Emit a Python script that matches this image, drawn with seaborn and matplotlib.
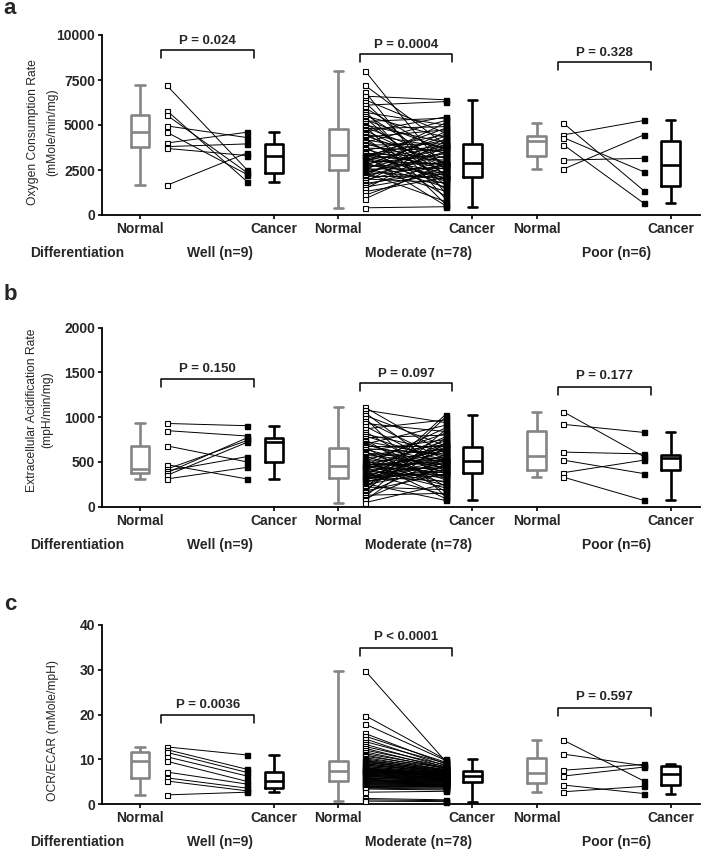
import numpy as np
import pandas as pd
import matplotlib
matplotlib.use("Agg")
import matplotlib.pyplot as plt
import seaborn as sns

# ---- values ----
group_labels = ["Well (n=9)", "Moderate (n=78)", "Poor (n=6)"]
box_labels = ["Normal", "Cancer"]

# a: oxygen consumption rate (pairs listed in the same order)
ocr_well_normal = [7200, 5800, 5550, 4950, 4600, 4000, 3800, 3700, 1650]
ocr_well_cancer = [2500, 1850, 2350, 4300, 2250, 4600, 3950, 3300, 3450]
ocr_mod_normal = [8000, 7200, 6850, 6600, 6400, 6250, 6100, 5950, 5800, 5700, 5600, 5500, 5400, 5300, 5200, 5100, 5000, 4950, 4880, 4800,
                  4700, 4620, 4550, 4480, 4400, 4330, 4250, 4180, 4100, 4030, 3950, 3880, 3800, 3720, 3650, 3580, 3500, 3420, 3360,
                  3340, 3320, 3300, 3280, 3250, 3200, 3150, 3100, 3050, 3000, 2950, 2900, 2850, 2800, 2750, 2700, 2650, 2600, 2550,
                  2500, 2450, 2400, 2350, 2300, 2250, 2200, 2150, 2100, 2000, 1950, 1850, 1750, 1650, 1550, 1450, 1300, 1100, 900, 400]
ocr_mod_cancer = [2480, 3900, 1200, 6400, 4550, 2130, 6300, 3330, 900, 5000, 2800, 4310, 1650, 3640, 5380, 2250, 4020, 600, 3120, 4910,
                  2630, 5450, 1930, 3750, 2915, 4730, 1450, 3460, 2160, 5250, 2880, 3960, 1050, 3580, 2530, 4470, 1870, 3200, 2760,
                  4150, 2040, 3870, 520, 3050, 4820, 2370, 1720, 3790, 2830, 5120, 1550, 3400, 2200, 4390, 2905, 1320, 3700, 2580,
                  4640, 1990, 3270, 750, 3920, 2720, 4230, 2110, 3520, 1800, 2980, 4090, 2420, 2860, 2310, 3830, 2080, 2680, 2900, 460]
ocr_poor_normal = [5100, 4450, 4300, 3900, 3050, 2550]
ocr_poor_cancer = [1350, 5250, 2400, 650, 3150, 4450]

# b: extracellular acidification rate
ecar_well_normal = [930, 850, 680, 470, 420, 400, 380, 350, 310]
ecar_well_cancer = [905, 790, 500, 310, 740, 560, 770, 720, 440]
ecar_mod_normal = [1110, 1080, 1050, 1020, 990, 960, 930, 900, 870, 840, 810, 790, 770, 750, 730, 715, 700, 690, 675, 665,
                   650, 640, 625, 610, 600, 585, 570, 560, 545, 530, 520, 510, 500, 490, 480, 472, 465, 460, 457,
                   453, 448, 440, 432, 425, 418, 410, 400, 390, 380, 372, 365, 358, 350, 342, 335, 328, 322, 320,
                   315, 308, 300, 290, 280, 270, 258, 245, 232, 220, 205, 190, 175, 160, 145, 128, 110, 90, 70, 45]
ecar_mod_cancer = [595, 940, 385, 680, 110, 524, 840, 440, 970, 312, 615, 512, 800, 225, 565, 374, 910, 492, 675, 170,
                   585, 424, 750, 300, 530, 462, 695, 338, 645, 90, 518, 820, 400, 270, 625, 478, 880, 240, 555,
                   378, 735, 508, 210, 605, 432, 780, 325, 538, 130, 665, 455, 705, 360, 575, 285, 514, 688, 408,
                   485, 392, 635, 350, 447, 500, 70, 416, 655, 190, 1030, 765, 370, 1000, 545, 150, 860, 470, 720, 255]
ecar_poor_normal = [1060, 920, 610, 520, 380, 330]
ecar_poor_cancer = [560, 830, 590, 370, 520, 70]

# c: OCR/ECAR ratio
ratio_well_normal = [12.8, 12.2, 11.6, 10.6, 9.6, 7.2, 5.9, 5.2, 2.1]
ratio_well_cancer = [11.0, 7.8, 7.1, 6.3, 5.1, 4.5, 3.6, 3.0, 2.7]
ratio_mod_normal = [29.8, 19.8, 17.9, 15.8, 15.2, 14.6, 14.0, 13.4, 12.9, 12.5, 12.1, 11.7, 11.3, 11.0, 10.7, 10.4, 10.1, 9.9, 9.7, 9.6,
                    9.4, 9.3, 9.1, 9.0, 8.8, 8.7, 8.5, 8.4, 8.2, 8.1, 8.0, 7.9, 7.8, 7.7, 7.6, 7.55, 7.5, 7.45, 7.42,
                    7.38, 7.3, 7.2, 7.1, 7.0, 6.9, 6.8, 6.7, 6.6, 6.5, 6.4, 6.3, 6.2, 6.0, 5.9, 5.8, 5.6, 5.5, 5.4,
                    5.25, 5.15, 5.05, 4.95, 4.85, 4.7, 4.6, 4.5, 4.4, 4.25, 4.1, 4.0, 3.9, 3.75, 3.6, 3.4, 2.7, 1.3, 1.0, 0.7]
ratio_mod_cancer = [9.6, 10.0, 9.8, 9.0, 9.4, 8.6, 9.2, 8.3, 8.8, 8.0, 8.4, 7.9, 8.2, 7.6, 8.1, 7.65, 7.8, 7.45, 7.7, 7.2,
                    7.5, 7.35, 6.9, 7.3, 7.1, 7.15, 6.8, 7.0, 6.65, 6.95, 6.5, 6.85, 6.6, 6.4, 6.7, 6.28, 6.55, 6.32, 6.1,
                    6.45, 6.35, 5.95, 6.2, 5.8, 6.0, 5.7, 5.9, 5.5, 5.75, 5.6, 5.35, 5.45, 5.4, 5.2, 5.3, 5.05, 5.15, 4.9,
                    5.1, 4.95, 4.7, 4.8, 4.5, 4.6, 4.3, 4.4, 4.1, 4.2, 3.9, 4.0, 3.8, 3.6, 3.4, 3.2, 2.9, 1.0, 0.8, 0.6]
ratio_poor_normal = [14.3, 11.2, 7.6, 6.3, 4.3, 2.8]
ratio_poor_cancer = [5.2, 8.6, 8.9, 8.3, 2.4, 4.0]

ocr_p = ["P = 0.024", "P = 0.0004", "P = 0.328"]
ecar_p = ["P = 0.150", "P = 0.097", "P = 0.177"]
ratio_p = ["P = 0.0036", "P < 0.0001", "P = 0.597"]

# ---- layout ----
STEP = 7.4          # distance between groups
OPEN_DX, FILL_DX, CANCER_DX = 1.0, 4.0, 5.0
BOX_W = 0.7
GRAY = "#858585"
W, H = 711, 851

sns.set_theme(style="ticks")
plt.rcParams["font.family"] = ["Liberation Sans", "DejaVu Sans"]

fig = plt.figure(figsize=(W / 100, H / 100), dpi=100)


def draw_panel(top_px, bottom_px, normals, cancers, ymax, ystep, ylabel, lab_pos, lab_ls,
               pvals, bracket_y, text_y, letter, letter_y):
    ax = fig.add_axes([102 / W, 1 - bottom_px / H, 598 / W, (bottom_px - top_px) / H])

    n_df = pd.DataFrame({"pos": np.concatenate([[g * STEP] * len(v) for g, v in enumerate(normals)]),
                         "value": np.concatenate(normals)})
    c_df = pd.DataFrame({"pos": np.concatenate([[g * STEP + CANCER_DX] * len(v) for g, v in enumerate(cancers)]),
                         "value": np.concatenate(cancers)})
    sns.boxplot(data=n_df, x="pos", y="value", native_scale=True, orient="x", width=BOX_W / STEP,
                whis=(0, 100), fill=False, color=GRAY, linewidth=1.9, ax=ax)
    sns.boxplot(data=c_df, x="pos", y="value", native_scale=True, orient="x", width=BOX_W / STEP,
                whis=(0, 100), fill=False, color="black", linewidth=1.9, ax=ax)

    # paired lines with open (normal) and filled (cancer) squares
    for g, (nv, cv) in enumerate(zip(normals, cancers)):
        xo, xf = g * STEP + OPEN_DX, g * STEP + FILL_DX
        nv, cv = np.asarray(nv), np.asarray(cv)
        ax.plot(np.vstack([np.full(len(nv), xo), np.full(len(cv), xf)]), np.vstack([nv, cv]),
                color="black", lw=0.7, zorder=3, clip_on=False)
        ax.plot(np.full(len(nv), xo), nv, ls="none", marker="s", ms=3.6, mfc="white", mec="black",
                mew=0.8, zorder=4, clip_on=False)
        ax.plot(np.full(len(cv), xf), cv, ls="none", marker="s", ms=3.6, mfc="black", mec="black",
                zorder=4, clip_on=False)

        # significance bracket
        x0, x1 = xo - 0.2, xf + 0.25
        yb, tick = bracket_y[g], ymax * 0.044
        ax.plot([x0, x0, x1, x1], [yb - tick, yb, yb, yb - tick], color="black", lw=1.1, clip_on=False)
        ax.text((x0 + x1) / 2, text_y[g], pvals[g], ha="center", va="center",
                fontsize=9.5, fontweight="bold")

    ax.set_xlim(-38 / 26.8, 560 / 26.8)
    ax.set_ylim(0, ymax)
    ax.set_yticks(np.arange(0, ymax + ystep / 2, ystep))
    xt = [g * STEP + dx for g in range(3) for dx in (0, CANCER_DX)]
    ax.set_xticks(xt)
    ax.set_xticklabels(box_labels * 3)
    ax.tick_params(axis="both", direction="out", length=3, width=1.2, pad=2, labelsize=10, color="black")
    for t in ax.get_xticklabels() + ax.get_yticklabels():
        t.set_fontweight("bold")
    for side in ("top", "right"):
        ax.spines[side].set_visible(False)
    for side in ("left", "bottom"):
        ax.spines[side].set_linewidth(1.3)
        ax.spines[side].set_color("black")

    ax.set_xlabel("")
    ax.set_ylabel(ylabel, fontsize=8.7, linespacing=lab_ls, va="center")
    ax.yaxis.set_label_coords(*lab_pos)

    trans = ax.get_xaxis_transform()
    dy = -38 / (bottom_px - top_px)
    ax.text((30 - 140) / 26.8, dy, "Differentiation", transform=trans, ha="left", va="center",
            fontsize=10, fontweight="bold")
    for g, lab in enumerate(group_labels):
        ax.text(g * STEP + 3.0, dy, lab, transform=trans, ha="center", va="center",
                fontsize=10, fontweight="bold")

    fig.text(10 / W, 1 - letter_y / H, letter, fontsize=16, fontweight="bold", ha="center", va="center")
    return ax


draw_panel(35, 215,
           [ocr_well_normal, ocr_mod_normal, ocr_poor_normal],
           [ocr_well_cancer, ocr_mod_cancer, ocr_poor_cancer],
           10000, 2500, "Oxygen Consumption Rate\n(mMole/min/mg)", (-0.099, 0.46), 1.75,
           ocr_p, [9167, 8944, 8481], [9667, 9450, 9000], "a", 9)

draw_panel(327.7, 506.7,
           [ecar_well_normal, ecar_mod_normal, ecar_poor_normal],
           [ecar_well_cancer, ecar_mod_cancer, ecar_poor_cancer],
           2000, 500, "Extracellular Acidification Rate\n(mpH/min/mg)", (-0.104, 0.54), 1.35,
           ecar_p, [1423, 1379, 1334], [1535, 1483, 1464], "b", 294)

draw_panel(625, 804.3,
           [ratio_well_normal, ratio_mod_normal, ratio_poor_normal],
           [ratio_well_cancer, ratio_mod_cancer, ratio_poor_cancer],
           40, 10, "OCR/ECAR (mMole/mpH)", (-0.082, 0.41), 1.2,
           ratio_p, [19.9, 34.8, 21.4], [22.2, 37.3, 23.9], "c", 604)

fig.savefig("out.png", dpi=100)
